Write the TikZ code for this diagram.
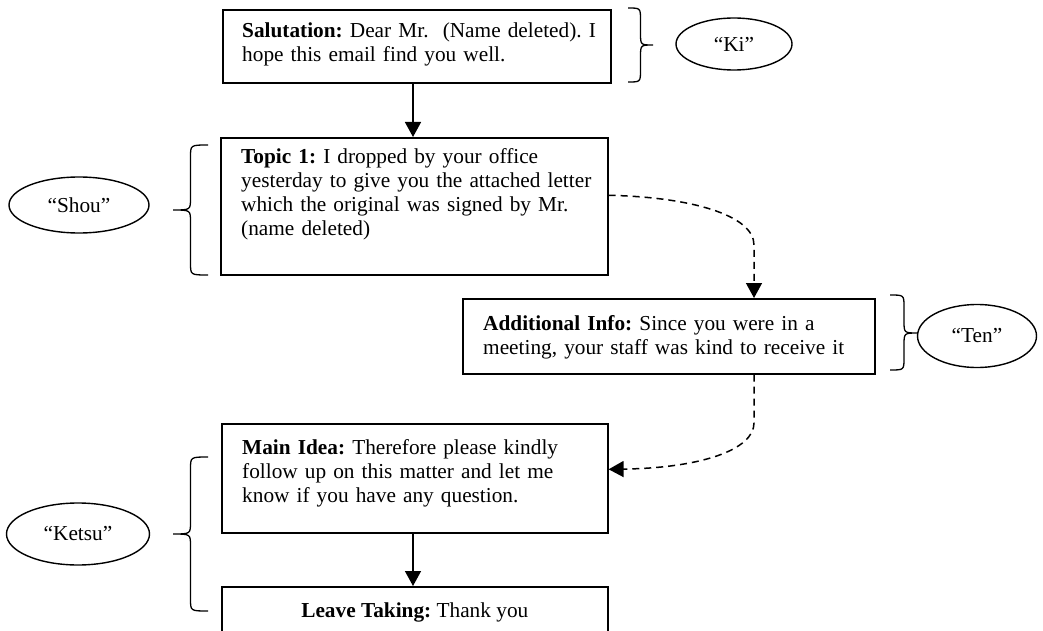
\documentclass[tikz,border=0pt]{standalone}
\usepackage{fontspec}
\setmainfont{Liberation Serif}
\usetikzlibrary{arrows.meta,calc,shapes.geometric}
\frenchspacing
\newcommand\mybrace[5]{% x-ends, x-tip, y-top, y-tip, y-bottom
  \draw[bracestyle] (#1,#3) .. controls ({(#1+#2)/2},#3) .. ({(#1+#2)/2},{#3+12})
    -- ({(#1+#2)/2},{#4-12}) .. controls ({(#1+#2)/2},#4) .. (#2,#4)
    .. controls ({(#1+#2)/2},#4) .. ({(#1+#2)/2},{#4+12})
    -- ({(#1+#2)/2},{#5-12}) .. controls ({(#1+#2)/2},#5) .. (#1,#5);}
\begin{document}
\begin{tikzpicture}[x=1pt,y=-1pt,
  box/.style={draw, line width=1.6pt, rectangle, inner sep=0pt, anchor=north west},
  txt/.style={anchor=base west, inner sep=0pt, text width=420pt, align=left,
    font=\fontsize{21.3}{24}\selectfont\frenchspacing},
  ell/.style={draw, ellipse, line width=1.4pt, inner sep=0pt,
    font=\fontsize{21.3}{24}\selectfont},
  bracestyle/.style={line width=1.3pt},
  flow/.style={line width=1.5pt, -{Triangle[length=15pt,width=16pt]}},
  dflow/.style={line width=1.5pt, dash pattern=on 7pt off 5pt, -{Triangle[length=15pt,width=16pt]}}]
\clip (0,0) rectangle (1043,631);
\fill[white] (0,0) rectangle (1043,631);

% boxes
\node[box, minimum width=388pt, minimum height=73pt] (sal) at (222,9) {};
\node[box, minimum width=387pt, minimum height=137pt] (topic) at (220,137) {};
\node[box, minimum width=412pt, minimum height=75pt] (add) at (462,298) {};
\node[box, minimum width=386pt, minimum height=109pt] (main) at (221,423) {};
\node[box, minimum width=386pt, minimum height=70pt] (leave) at (221,586) {};

% texts
\node[txt] (salt) at ($(sal.north west)+(20,28.5)$) {\textbf{Salutation:} Dear Mr.\ \ (Name deleted). I\\hope this email find you well.};
\node[txt] (topict) at ($(topic.north west)+(21,27)$) {\textbf{Topic 1:} I dropped by your office\\yesterday to give you the attached letter\\which the original was signed by Mr.\\(name deleted)};
\node[txt] (addt) at ($(add.north west)+(21,32)$) {\textbf{Additional Info:} Since you were in a\\meeting, your staff was kind to receive it};
\node[txt] (maint) at ($(main.north west)+(21,31)$) {\textbf{Main Idea:} Therefore please kindly\\follow up on this matter and let me\\know if you have any question.};
\node[anchor=base, inner sep=0pt, font=\fontsize{21.3}{24}\selectfont\frenchspacing] (leavet) at ($(leave.north)+(0,31)$) {\textbf{Leave Taking:} Thank you};

% ellipses
\node[ell, minimum width=116pt, minimum height=52pt] (ki) at (734,44) {“Ki”};
\node[ell, minimum width=140pt, minimum height=56pt] (shou) at (79,205) {“Shou”};
\node[ell, minimum width=119pt, minimum height=63pt] (ten) at (977,336) {“Ten”};
\node[ell, minimum width=143pt, minimum height=62pt] (ketsu) at (78,534) {“Ketsu”};

% braces
\mybrace{628}{653}{8}{45}{82}
\mybrace{208}{173}{145}{210}{275}
\mybrace{890}{918}{295}{333}{370}
\mybrace{208}{173}{457}{534}{611}

% connectors
\draw[flow] (sal.south -| 413,0) -- (topic.north -| 413,0);
\draw[flow] (main.south -| 413,0) -- (leave.north -| 413,0);
\draw[dflow] ($(topic.east)+(0,-11)$) .. controls (690,197) and (754,215) .. (754,245) -- (add.north -| 754,0);
\draw[dflow] (add.south -| 754,0) -- (754,423) .. controls (754,450) and (700,468) .. ($(main.east)+(0,-9)$);
\end{tikzpicture}
\end{document}
